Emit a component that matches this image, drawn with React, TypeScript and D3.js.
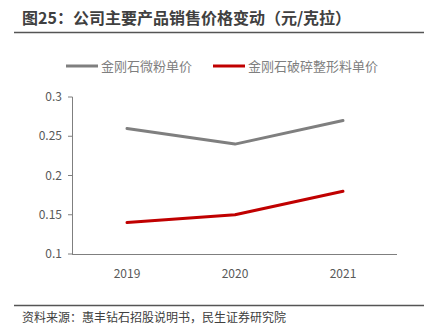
import React from "react";
import * as d3 from "d3";

const categories = ["2019", "2020", "2021"];
const seriesNames = ["金刚石微粉单价", "金刚石破碎整形料单价"];
const powderPrice = [0.26, 0.24, 0.27];
const crushedPrice = [0.14, 0.15, 0.18];
const yTicks = [0.1, 0.15, 0.2, 0.25, 0.3];
const colors = ["#7f7f7f", "#c00000"];

const W = 432;
const H = 329;
const font = "'Noto Sans CJK SC', 'Noto Sans', sans-serif";

export default function App() {
  const x = d3.scalePoint<string>().domain(categories).range([127, 343]);
  const y = d3.scaleLinear().domain([0.1, 0.3]).range([254, 97]);
  const line = d3
    .line<number>()
    .x((_, i) => x(categories[i]) as number)
    .y((d) => y(d))
    .curve(d3.curveLinear);
  const series = [powderPrice, crushedPrice];
  const axisColor = "#7f7f7f";
  return (
    <svg
      width={W}
      height={H}
      style={{ position: "absolute", left: 0, top: 0, background: "#fff" }}
      fontFamily={font}
    >
      <text x={22} y={24} fontSize={16} fontWeight="bold" fill="#404040">
        图25：公司主要产品销售价格变动（元/克拉）
      </text>
      <line x1={14} x2={424} y1={32.5} y2={32.5} stroke="#555" strokeWidth={1.5} />

      {seriesNames.map((n, i) => {
        const lx = i === 0 ? 66 : 213;
        return (
          <g key={n}>
            <line x1={lx} x2={lx + 32} y1={66} y2={66} stroke={colors[i]} strokeWidth={3} />
            <text x={lx + 35} y={71} fontSize={13} fill="#7f7f7f">
              {n}
            </text>
          </g>
        );
      })}

      <line x1={72.5} x2={72.5} y1={97} y2={254} stroke={axisColor} strokeWidth={1} />
      {yTicks.map((t) => (
        <g key={t}>
          <line x1={68} x2={72.5} y1={y(t)} y2={y(t)} stroke={axisColor} />
          <text x={62} y={y(t) + 4} fontSize={12} textAnchor="end" fill="#595959">
            {String(t)}
          </text>
        </g>
      ))}
      <line x1={72} x2={397} y1={254.5} y2={254.5} stroke={axisColor} strokeWidth={1} />
      {categories.map((c) => (
        <text key={c} x={x(c)} y={278} fontSize={12} textAnchor="middle" fill="#595959">
          {c}
        </text>
      ))}

      {series.map((s, i) => (
        <path
          key={i}
          d={line(s) || ""}
          fill="none"
          stroke={colors[i]}
          strokeWidth={3}
          strokeLinecap="round"
          strokeLinejoin="round"
        />
      ))}

      <line x1={14} x2={424} y1={305.5} y2={305.5} stroke="#555" strokeWidth={1.5} />
      <text x={22} y={322} fontSize={12} fill="#404040">
        资料来源：惠丰钻石招股说明书，民生证券研究院
      </text>
    </svg>
  );
}
